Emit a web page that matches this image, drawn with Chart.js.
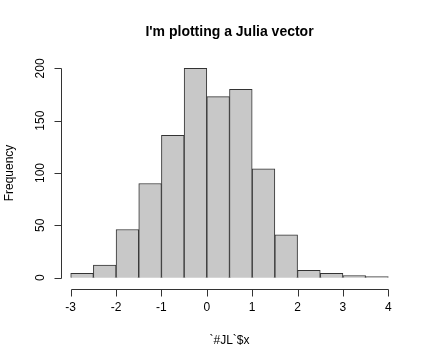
<!DOCTYPE html>
<html><head><meta charset="utf-8">
<script src="https://cdn.jsdelivr.net/npm/chart.js@4"></script>
<style>html,body{margin:0;padding:0;background:#fff}#wrap{width:432px;height:360px}</style>
</head><body><div id="wrap"><canvas id="c" width="432" height="360"></canvas></div>
<script>
const binStarts = [-3,-2.5,-2,-1.5,-1,-0.5,0,0.5,1,1.5,2,2.5,3,3.5];
const binWidth = 0.5;
const counts = [4,12,46,90,136,200,173,180,104,41,7,4,2,1];
const xTicks = [-3,-2,-1,0,1,2,3,4];
const yTicks = [0,50,100,150,200];
const titleText = "I'm plotting a Julia vector";
const xLabel = "`#JL`$x";
const yLabel = "Frequency";

const font = "'Liberation Sans', Arial, Helvetica, sans-serif";
const rAxes = {
  id: 'rAxes',
  afterDraw(chart) {
    const ctx = chart.ctx, xs = chart.scales.x, ys = chart.scales.y, ca = chart.chartArea;
    ctx.save();
    ctx.strokeStyle = '#333'; ctx.lineWidth = 1; ctx.fillStyle = '#000';
    const xAxisY = Math.round(ca.bottom + 3) + 0.5;
    const x0 = xs.getPixelForValue(xTicks[0]), x1 = xs.getPixelForValue(xTicks[xTicks.length-1]);
    ctx.beginPath(); ctx.moveTo(Math.round(x0)+0.5, xAxisY); ctx.lineTo(Math.round(x1)+0.5, xAxisY);
    xTicks.forEach(v => { const p = Math.round(xs.getPixelForValue(v)) + 0.5; ctx.moveTo(p, xAxisY); ctx.lineTo(p, xAxisY + 7); });
    ctx.stroke();
    ctx.font = '12px ' + font; ctx.textAlign = 'center'; ctx.textBaseline = 'middle';
    xTicks.forEach(v => ctx.fillText(String(v), xs.getPixelForValue(v), xAxisY + 18));
    const yAxisX = Math.round(ca.left + 3) + 0.5;
    const y0 = ys.getPixelForValue(yTicks[0]), y1 = ys.getPixelForValue(yTicks[yTicks.length-1]);
    ctx.beginPath(); ctx.moveTo(yAxisX, Math.round(y0)+0.5); ctx.lineTo(yAxisX, Math.round(y1)+0.5);
    yTicks.forEach(v => { const p = Math.round(ys.getPixelForValue(v)) + 0.5; ctx.moveTo(yAxisX, p); ctx.lineTo(yAxisX - 7, p); });
    ctx.stroke();
    yTicks.forEach(v => {
      ctx.save(); ctx.translate(yAxisX - 21, ys.getPixelForValue(v)); ctx.rotate(-Math.PI/2);
      ctx.fillText(String(v), 0, 0); ctx.restore();
    });
    ctx.fillText(xLabel, (ca.left + ca.right)/2, 341);
    ctx.save(); ctx.translate(10, (ca.top + ca.bottom)/2); ctx.rotate(-Math.PI/2);
    ctx.fillText(yLabel, 0, 0); ctx.restore();
    ctx.font = 'bold 14px ' + font;
    ctx.fillText(titleText, (ca.left + ca.right)/2, 32);
    ctx.restore();
  }
};

new Chart(document.getElementById('c'), {
  type: 'bar',
  data: {
    datasets: [{
      data: binStarts.map((s, i) => ({x: s + binWidth/2, y: counts[i]})),
      backgroundColor: '#c8c8c8',
      borderColor: '#333333',
      borderWidth: 1,
      barPercentage: 1,
      categoryPercentage: 1,
      borderSkipped: 'bottom'
    }]
  },
  options: {
    responsive: false,
    animation: false,
    events: [],
    layout: { padding: { left: 58, right: 31, top: 60, bottom: 74 } },
    plugins: { legend: { display: false }, tooltip: { enabled: false } },
    scales: {
      x: { type: 'linear', display: false, offset: false, min: -3.28, max: 4.28, grid: { offset: false } },
      y: { display: false, min: -8, max: 208 }
    }
  },
  plugins: [rAxes]
});
</script></body></html>
